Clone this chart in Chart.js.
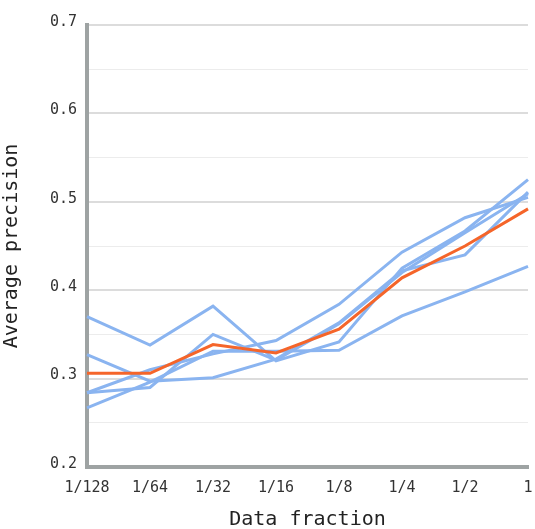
<!DOCTYPE html>
<html>
<head>
<meta charset="utf-8">
<script src="https://cdn.jsdelivr.net/npm/chart.js@4/dist/chart.umd.min.js"></script>
<style>
  html, body { margin: 0; padding: 0; background: #fff; }
  #wrap { width: 535px; height: 529px; }
</style>
</head>
<body>
<div id="wrap"><canvas id="apChart"></canvas></div>
<script>
// data fractions on the x axis
const fractions = ['1/128', '1/64', '1/32', '1/16', '1/8', '1/4', '1/2', '1'];

// individual runs (blue)
const runA = [0.370, 0.338, 0.382, 0.320, 0.3415, 0.425, 0.467, 0.525];
const runB = [0.327, 0.297, 0.301, 0.322, 0.363, 0.422, 0.440, 0.511];
const runC = [0.284, 0.310, 0.328, 0.343, 0.384, 0.443, 0.482, 0.505];
const runD = [0.284, 0.290, 0.350, 0.321, 0.362, 0.420, 0.465, 0.509];
const runE = [0.267, 0.296, 0.331, 0.331, 0.332, 0.371, 0.398, 0.427];

// mean (orange)
const meanRun = [0.306, 0.306, 0.3385, 0.329, 0.356, 0.414, 0.450, 0.492];

const BLUE = '#8ab4f0';
const ORANGE = '#f5652a';
const MONO = '"DejaVu Sans Mono", monospace';

function runSet(values, color, order) {
  return {
    data: values,
    borderColor: color,
    borderWidth: 3,
    pointRadius: 0,
    fill: false,
    tension: 0,
    order: order
  };
}

const isMajor = v => Math.abs(v * 10 - Math.round(v * 10)) < 1e-6;

new Chart(document.getElementById('apChart'), {
  type: 'line',
  data: {
    labels: fractions,
    datasets: [
      runSet(meanRun, ORANGE, 0),
      runSet(runA, BLUE, 1),
      runSet(runB, BLUE, 1),
      runSet(runC, BLUE, 1),
      runSet(runD, BLUE, 1),
      runSet(runE, BLUE, 1)
    ]
  },
  options: {
    responsive: true,
    maintainAspectRatio: false,
    animation: false,
    layout: { padding: { top: 25, right: 7, left: 0, bottom: 0 } },
    plugins: { legend: { display: false }, tooltip: { enabled: false } },
    scales: {
      x: {
        offset: false,
        grid: { display: false, drawTicks: false },
        border: { display: true, color: '#9ea3a3', width: 4 },
        ticks: { color: '#333', padding: 12, font: { family: MONO, size: 15 }, maxRotation: 0, autoSkip: false },
        title: { display: true, text: 'Data fraction', color: '#222', font: { family: MONO, size: 20 }, padding: { top: 6, bottom: -3 } },
        afterFit: s => { s.height = 62; s.paddingLeft = 0; s.paddingRight = 0; }
      },
      y: {
        min: 0.2,
        max: 0.7,
        grid: {
          drawTicks: false,
          color: c => isMajor(c.tick.value) ? '#dcdcdc' : '#ececec',
          lineWidth: c => isMajor(c.tick.value) ? 2 : 1
        },
        border: { display: true, color: '#9ea3a3', width: 4 },
        ticks: {
          stepSize: 0.05,
          padding: 10,
          labelOffset: -3,
          color: '#333',
          font: { family: MONO, size: 15 },
          callback: v => isMajor(v) ? v.toFixed(1) : ''
        },
        title: { display: true, text: 'Average precision', color: '#222', font: { family: MONO, size: 20 }, padding: { top: 0, bottom: 8 } },
        afterFit: s => { s.width = 87; s.paddingTop = 0; s.paddingBottom = 0; }
      }
    }
  }
});
</script>
</body>
</html>
